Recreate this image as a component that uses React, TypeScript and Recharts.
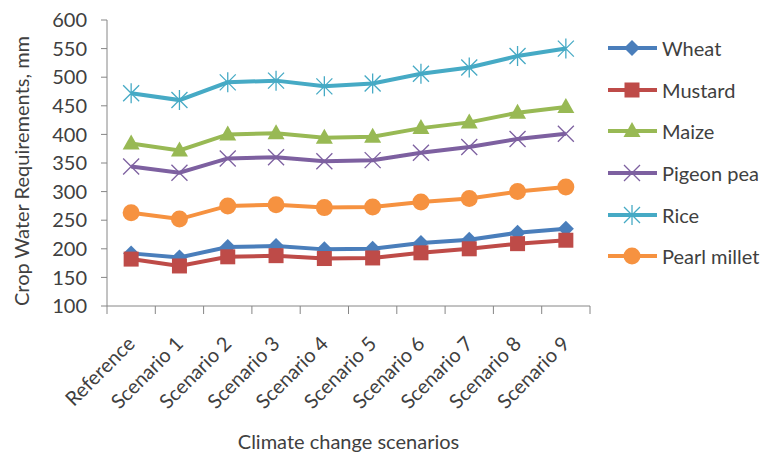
import { LineChart, Line, XAxis, YAxis, Label } from 'recharts';

const SCENARIOS = ['Reference', 'Scenario 1', 'Scenario 2', 'Scenario 3', 'Scenario 4', 'Scenario 5', 'Scenario 6', 'Scenario 7', 'Scenario 8', 'Scenario 9'];

const WHEAT = [192, 185, 203, 205, 199, 200, 210, 216, 228, 235];
const MUSTARD = [182, 170, 186, 188, 183, 184, 193, 200, 209, 215];
const MAIZE = [384, 372, 400, 402, 394, 396, 411, 421, 438, 448];
const PIGEON_PEA = [344, 333, 358, 360, 353, 355, 368, 378, 392, 401];
const RICE = [472, 460, 491, 494, 484, 489, 506, 517, 537, 550];
const PEARL_MILLET = [263, 252, 275, 277, 272, 273, 282, 288, 300, 308];

const Y_TICKS = [100, 150, 200, 250, 300, 350, 400, 450, 500, 550, 600];

const FONT = 'Lato, "Open Sans", sans-serif';
const TEXT = '#404040';
const AXIS = '#868686';

type Shape = 'diamond' | 'square' | 'triangle' | 'x' | 'star' | 'circle';

const SERIES: { key: string; name: string; values: number[]; color: string; shape: Shape }[] = [
  { key: 'wheat', name: 'Wheat', values: WHEAT, color: '#4A7EBB', shape: 'diamond' },
  { key: 'mustard', name: 'Mustard', values: MUSTARD, color: '#BE4B48', shape: 'square' },
  { key: 'maize', name: 'Maize', values: MAIZE, color: '#98B954', shape: 'triangle' },
  { key: 'pigeon', name: 'Pigeon pea', values: PIGEON_PEA, color: '#7D60A0', shape: 'x' },
  { key: 'rice', name: 'Rice', values: RICE, color: '#46AAC5', shape: 'star' },
  { key: 'millet', name: 'Pearl millet', values: PEARL_MILLET, color: '#F69240', shape: 'circle' },
];

const data = SCENARIOS.map((scenario, i) => {
  const row: Record<string, string | number> = { scenario };
  SERIES.forEach(s => { row[s.key] = s.values[i]; });
  return row;
});

function Marker({ cx, cy, shape, color }: { cx: number; cy: number; shape: Shape; color: string }) {
  switch (shape) {
    case 'diamond':
      return <polygon points={`${cx},${cy - 8} ${cx + 8},${cy} ${cx},${cy + 8} ${cx - 8},${cy}`} fill={color} />;
    case 'square':
      return <rect x={cx - 7.5} y={cy - 7.5} width={15} height={15} fill={color} />;
    case 'triangle':
      return <polygon points={`${cx},${cy - 9} ${cx + 8.5},${cy + 6} ${cx - 8.5},${cy + 6}`} fill={color} />;
    case 'x':
      return (
        <path d={`M${cx - 8},${cy - 8}L${cx + 8},${cy + 8}M${cx + 8},${cy - 8}L${cx - 8},${cy + 8}`}
          stroke={color} strokeWidth={1.3} fill="none" />
      );
    case 'star':
      return (
        <path d={`M${cx - 8},${cy - 8}L${cx + 8},${cy + 8}M${cx + 8},${cy - 8}L${cx - 8},${cy + 8}M${cx},${cy - 10}L${cx},${cy + 10}`}
          stroke={color} strokeWidth={1.3} fill="none" />
      );
    default:
      return <circle cx={cx} cy={cy} r={8.5} fill={color} />;
  }
}

// label rotated 45deg, plus Excel-style tick marks on the band edges
function ScenarioTick({ x, y, payload, index }: any) {
  const half = payload.offset ?? 0;
  const ax = x + 5;
  const ay = y + 39;
  return (
    <g>
      <line x1={x - half} y1={y} x2={x - half} y2={y + 8} stroke={AXIS} />
      {index === SCENARIOS.length - 1 && <line x1={x + half} y1={y} x2={x + half} y2={y + 8} stroke={AXIS} />}
      <text x={ax} y={ay} transform={`rotate(-45 ${ax} ${ay})`} textAnchor="end"
        fontSize={20} fill={TEXT} fontFamily={FONT}>
        {payload.value}
      </text>
    </g>
  );
}

function LegendBox() {
  return (
    <div style={{ position: 'absolute', left: 606, top: 27, fontFamily: FONT, fontSize: 20, color: TEXT }}>
      {SERIES.map(s => (
        <div key={s.key} style={{ display: 'flex', alignItems: 'center', height: 41.7 }}>
          <svg width={54} height={24} style={{ marginRight: 2 }}>
            <line x1={2} y1={12} x2={51} y2={12} stroke={s.color} strokeWidth={4} />
            <Marker cx={26} cy={12} shape={s.shape} color={s.color} />
          </svg>
          <span>{s.name}</span>
        </div>
      ))}
    </div>
  );
}

export default function App() {
  return (
    <div style={{ position: 'absolute', left: 0, top: 0, width: 766, height: 463, background: '#fff' }}>
      <LineChart width={766} height={463} data={data} margin={{ top: 20, right: 176, bottom: 0, left: 0 }}>
        <XAxis dataKey="scenario" scale="band" height={157} axisLine={{ stroke: AXIS }} tickLine={false}
          tickSize={0} tickMargin={0} interval={0} tick={<ScenarioTick />}>
          <Label value="Climate change scenarios" position="insideBottom" offset={14}
            style={{ fontSize: 20, fill: TEXT, fontFamily: FONT }} />
        </XAxis>
        <YAxis domain={[100, 600]} ticks={Y_TICKS} width={107} axisLine={{ stroke: AXIS }}
          tickLine={{ stroke: AXIS }} tickSize={6} tickMargin={14}
          tick={{ fontSize: 20, fill: TEXT, fontFamily: FONT }}>
          <Label value="Crop Water Requirements, mm" angle={-90} position="insideLeft" offset={22} dy={8}
            style={{ fontSize: 20, fill: TEXT, fontFamily: FONT, textAnchor: 'middle' }} />
        </YAxis>
        {SERIES.map(s => (
          <Line key={s.key} dataKey={s.key} name={s.name} stroke={s.color} strokeWidth={4}
            isAnimationActive={false}
            dot={(p: any) => <Marker key={`${s.key}-${p.index}`} cx={p.cx} cy={p.cy} shape={s.shape} color={s.color} />} />
        ))}
      </LineChart>
      <LegendBox />
    </div>
  );
}
